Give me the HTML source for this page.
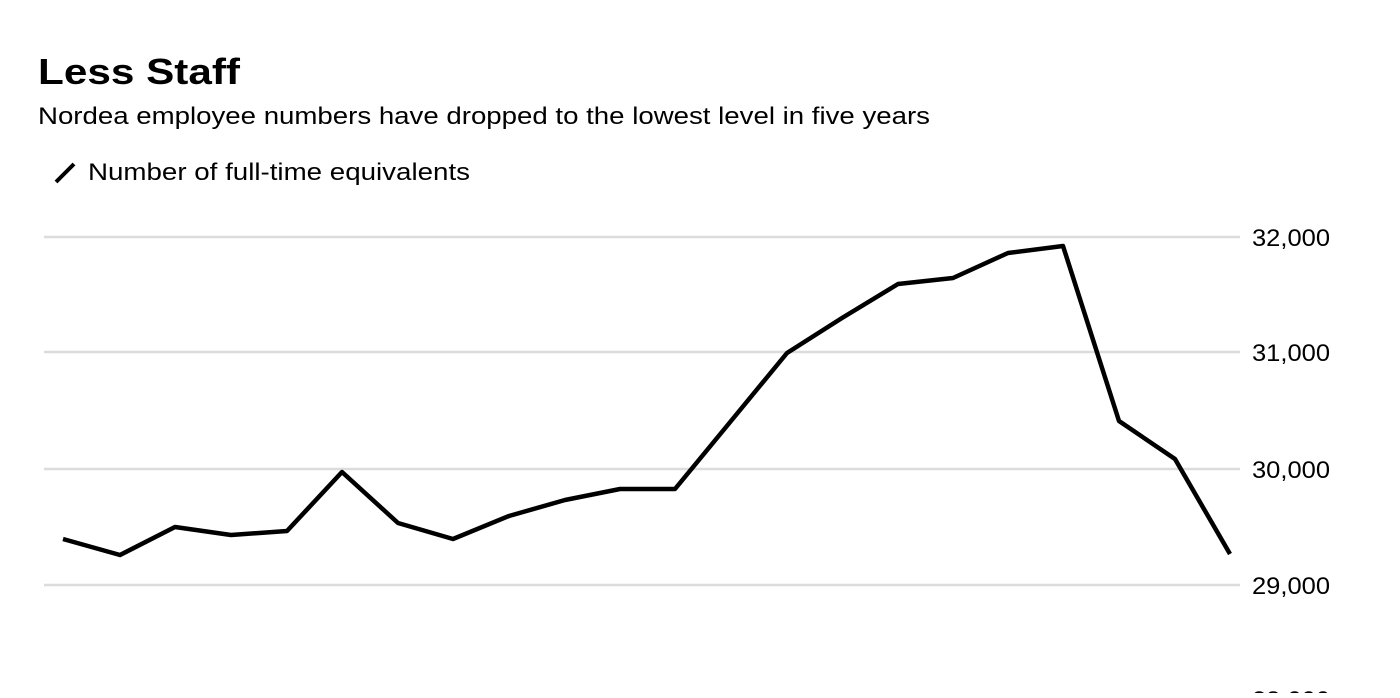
<!DOCTYPE html>
<html><head><meta charset="utf-8"><style>
body{margin:0;width:1400px;height:693px;background:#fff;overflow:hidden;font-family:"Liberation Sans",sans-serif;}
</style></head><body>
<svg width="1400" height="693" xmlns="http://www.w3.org/2000/svg" font-family="Liberation Sans, sans-serif">
<text x="38" y="84" font-size="36" font-weight="bold" fill="#000" textLength="202" lengthAdjust="spacingAndGlyphs">Less Staff</text>
<text x="38" y="124" font-size="24" fill="#000" textLength="892" lengthAdjust="spacingAndGlyphs">Nordea employee numbers have dropped to the lowest level in five years</text>
<line x1="56" y1="182" x2="74" y2="164" stroke="#000" stroke-width="4"/>
<text x="88" y="180" font-size="24" fill="#000" textLength="382" lengthAdjust="spacingAndGlyphs">Number of full-time equivalents</text>
<g stroke="#dcdcdc" stroke-width="2.5">
<line x1="44" y1="237" x2="1240" y2="237"/>
<line x1="44" y1="352" x2="1240" y2="352"/>
<line x1="44" y1="469" x2="1240" y2="469"/>
<line x1="44" y1="585" x2="1240" y2="585"/>
</g>
<g font-size="24" fill="#000">
<text x="1252" y="246" textLength="78" lengthAdjust="spacingAndGlyphs">32,000</text>
<text x="1252" y="361" textLength="78" lengthAdjust="spacingAndGlyphs">31,000</text>
<text x="1252" y="478" textLength="78" lengthAdjust="spacingAndGlyphs">30,000</text>
<text x="1252" y="594" textLength="78" lengthAdjust="spacingAndGlyphs">29,000</text>
<text x="1252" y="708" textLength="78" lengthAdjust="spacingAndGlyphs">28,000</text>
</g>
<polyline fill="none" stroke="#000" stroke-width="4.5" stroke-linejoin="round" points="63,539 120,555 175,527 231,535 287,531 342,472 398,523 453,539 509,516 565,500 620,489 675,489 731,421 787,353 842,318 898,284 953,278 1008,253 1063,246 1119,421 1175,459 1230,554"/>
</svg>
</body></html>
